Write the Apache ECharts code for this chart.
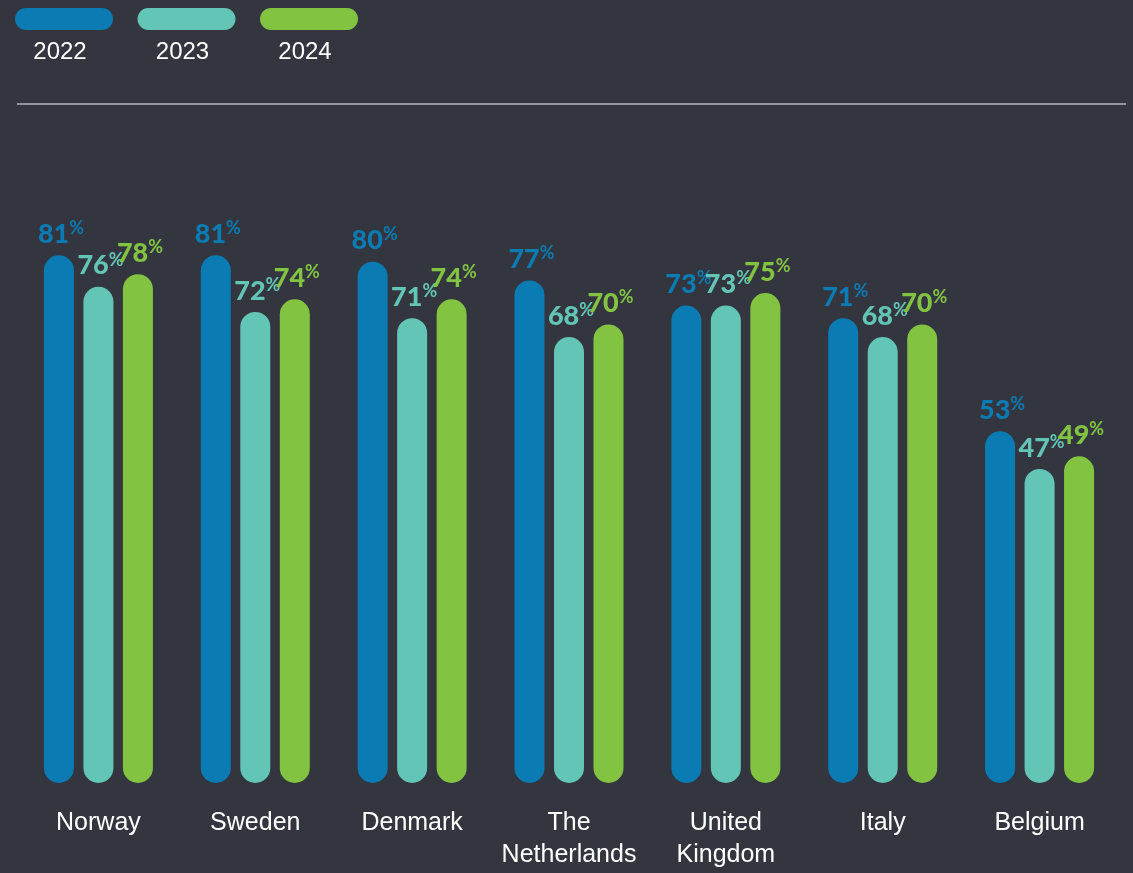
<!DOCTYPE html>
<html>
<head>
<meta charset="utf-8">
<style>
  html, body { margin: 0; padding: 0; background: #33363f; }
  #chart { width: 1133px; height: 873px; }
</style>
<script src="https://cdn.jsdelivr.net/npm/echarts@6/dist/echarts.min.js"></script>
</head>
<body>
<div id="chart"></div>
<script>
// data
const countries = ['Norway', 'Sweden', 'Denmark', 'The\nNetherlands', 'United\nKingdom', 'Italy', 'Belgium'];
const years = ['2022', '2023', '2024'];
const values2022 = [81, 81, 80, 77, 73, 71, 53];
const values2023 = [76, 72, 71, 68, 73, 68, 47];
const values2024 = [78, 74, 74, 70, 75, 70, 49];

const colors = ['#0a7bb3', '#63c5b5', '#82c341'];
const BAR_W = 30;
const BAR_STEP = 39.5;
const Y_MIN = -3;

const chart = echarts.init(document.getElementById('chart'));

// pill bars from the value down to the bottom of the grid
function renderBar(params, api) {
  const idx = params.seriesIndex;
  const cat = api.value(0);
  const val = api.value(1);
  const top = api.coord([cat, val]);
  const bottom = api.coord([cat, Y_MIN]);
  const x = top[0] + (idx - 1) * BAR_STEP - BAR_W / 2;
  const color = colors[idx];
  return {
    type: 'group',
    children: [
      {
        type: 'rect',
        shape: { x: x, y: top[1], width: BAR_W, height: bottom[1] - top[1], r: BAR_W / 2 },
        style: { fill: color }
      },
      {
        type: 'text',
        x: x + BAR_W / 2 + 2,
        y: top[1] - 6,
        style: {
          text: '{v|' + val + '}{p|%}',
          align: 'center',
          verticalAlign: 'bottom',
          rich: {
            v: { fill: color, fontSize: 27, fontWeight: 900, fontFamily: 'Lato', lineHeight: 30 },
            p: { fill: color, fontSize: 18, fontWeight: 'bold', fontFamily: 'Lato', lineHeight: 30, verticalAlign: 'top' }
          }
        }
      }
    ]
  };
}

function pairs(arr) {
  return arr.map((v, i) => [i, v]);
}

const seriesData = [values2022, values2023, values2024];

// legend drawn as pills with the year underneath
const legendGraphics = [];
years.forEach((y, i) => {
  const left = 15 + i * 122.5;
  legendGraphics.push({
    type: 'rect',
    left: left,
    top: 8,
    shape: { width: 98, height: 22, r: 11 },
    style: { fill: colors[i] }
  });
  legendGraphics.push({
    type: 'text',
    x: left + 45,
    y: 52,
    style: {
      text: y,
      fill: '#ffffff',
      font: '24px "Liberation Sans", Arial, sans-serif',
      align: 'center',
      verticalAlign: 'middle'
    }
  });
});
legendGraphics.push({
  type: 'line',
  shape: { x1: 17, y1: 104, x2: 1126, y2: 104 },
  style: { stroke: '#b4b6bb', lineWidth: 1.5 }
});

const option = {
  backgroundColor: '#33363f',
  animation: false,
  graphic: legendGraphics,
  grid: {
    left: 20,
    right: 15,
    top: 136,
    bottom: 90
  },
  xAxis: {
    type: 'category',
    data: countries,
    axisLine: { show: false },
    axisTick: { show: false },
    axisLabel: {
      color: '#ffffff',
      fontSize: 25,
      fontFamily: 'Liberation Sans',
      lineHeight: 32,
      margin: 24,
      interval: 0
    }
  },
  yAxis: {
    type: 'value',
    min: Y_MIN,
    max: 100,
    show: false,
    splitLine: { show: false }
  },
  series: years.map((y, i) => ({
    name: y,
    type: 'custom',
    renderItem: renderBar,
    data: pairs(seriesData[i])
  }))
};

chart.setOption(option);
</script>
</body>
</html>
